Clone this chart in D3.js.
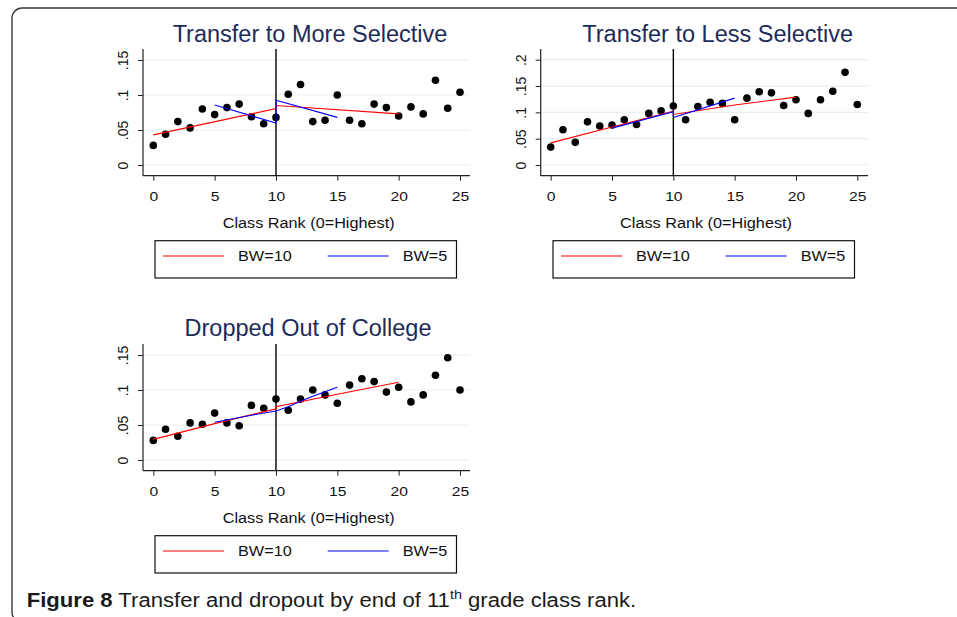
<!DOCTYPE html>
<html>
<head>
<meta charset="utf-8">
<script src="https://cdn.jsdelivr.net/npm/d3@7"></script>
<style>
  body { margin: 0; background: #fff; }
  svg { display: block; font-family: "Liberation Sans", Arial, sans-serif; }
</style>
</head>
<body>
<svg width="957" height="617"></svg>
<script>
// class rank categories (x)
const ranks = [0,1,2,3,4,5,6,7,8,9,10,11,12,13,14,15,16,17,18,19,20,21,22,23,24,25];

// binned means, one per rank
const moreSel = [0.028,0.044,0.062,0.053,0.080,0.072,0.082,0.087,0.069,0.059,0.068,0.101,0.115,
                 0.062,0.064,0.100,0.064,0.059,0.087,0.082,0.070,0.083,0.073,0.121,0.081,0.104];
const lessSel = [0.034,0.067,0.043,0.082,0.074,0.076,0.086,0.077,0.098,0.103,0.112,0.086,0.111,
                 0.119,0.117,0.086,0.127,0.139,0.137,0.113,0.124,0.098,0.124,0.140,0.176,0.115];
const dropped = [0.028,0.044,0.034,0.053,0.051,0.067,0.053,0.049,0.078,0.074,0.087,0.071,0.087,
                 0.100,0.093,0.081,0.107,0.116,0.112,0.097,0.104,0.083,0.093,0.121,0.146,0.100];

// local fits [rank, value]
const moreBw10 = [[0,0.043],[10,0.0805],[10,0.085],[20,0.073]];
const moreBw5  = [[5,0.0857],[10,0.060],[10,0.0924],[15,0.068]];
const lessBw10 = [[0,0.042],[5,0.072],[10,0.102],[10,0.096],[15,0.114],[20,0.129]];
const lessBw5  = [[5,0.070],[10,0.101],[10,0.090],[15,0.127]];
const dropBw10 = [[0,0.0295],[5,0.052],[10,0.073],[10,0.076],[15,0.094],[20,0.111]];
const dropBw5  = [[5,0.054],[8,0.064],[10,0.070],[11,0.076],[12,0.084],[13,0.091],[15,0.104]];

const xTicks = [0,5,10,15,20,25];
const yTicksA = [0,0.05,0.1,0.15];
const yTicksB = [0,0.05,0.1,0.15,0.2];
const yLabelsA = ['0','.05','.1','.15'];
const yLabelsB = ['0','.05','.1','.15','.2'];
const cutoff = 10;

const legendLabels = ['BW=10','BW=5'];
const fitColors = ['#ff0000','#0000ff'];
const gridColor = '#e7efef';
const titleColor = '#1d2b5a';
const stretch = 1.16;

var svg = d3.select('svg');

// outer frame, rounded at left, bottom edge just off the page
svg.append('rect')
    .attr('x', 12).attr('y', 8)
    .attr('width', 1000).attr('height', 614)
    .attr('rx', 10)
    .style('fill', 'none')
    .style('stroke', '#3a3a3a')
    .style('stroke-width', 1.4);

function drawPanel(p) {
    let g = svg.append('g').attr('transform', `translate(${p.left},${p.top})`);
    let w = p.w, h = 126.7;

    let x = d3.scaleLinear().domain([0, 25]).range([p.x0, p.x25]);
    let y = d3.scaleLinear().domain([0, p.yTop]).range([116, p.yTopPx]);

    // grid
    g.selectAll('line.grid')
        .data(p.yTicks)
        .enter()
        .append('line')
        .attr('x1', 0).attr('x2', w)
        .attr('y1', d => y(d)).attr('y2', d => y(d))
        .style('stroke', gridColor)
        .style('stroke-width', 1.2);

    // y axis
    let ya = g.append('g')
        .call(d3.axisLeft(y).tickValues(p.yTicks)
            .tickFormat((d, i) => p.yLabels[i]).tickSize(5).tickSizeOuter(0));
    ya.select('.domain').remove();
    ya.selectAll('line').style('stroke', '#222');
    ya.selectAll('text')
        .attr('x', 0).attr('dy', 0)
        .attr('text-anchor', 'middle')
        .attr('transform', 'translate(-15,0) rotate(-90)')
        .style('font-size', '14px')
        .style('fill', '#111')
        .style('font-family', '"Liberation Sans", Arial, sans-serif');

    // x axis
    let xa = g.append('g')
        .attr('transform', `translate(0,${h})`)
        .call(d3.axisBottom(x).tickValues(xTicks).tickSize(5).tickSizeOuter(0));
    xa.select('.domain').remove();
    xa.selectAll('line').style('stroke', '#222');
    xa.selectAll('text')
        .attr('y', 0).attr('dy', 0)
        .attr('transform', `translate(0,25) scale(${stretch},1)`)
        .style('font-size', '13.5px')
        .style('fill', '#111')
        .style('font-family', '"Liberation Sans", Arial, sans-serif');

    g.append('line')
        .attr('x1', 0).attr('x2', 0).attr('y1', 0).attr('y2', h)
        .style('stroke', '#222').style('stroke-width', 1.2);
    g.append('line')
        .attr('x1', 0).attr('x2', w).attr('y1', h).attr('y2', h)
        .style('stroke', '#222').style('stroke-width', 1.2);

    // cutoff
    g.append('line')
        .attr('x1', x(cutoff)).attr('x2', x(cutoff))
        .attr('y1', 0).attr('y2', h)
        .style('stroke', '#000').style('stroke-width', 1.4);

    // points
    g.selectAll('circle')
        .data(p.values)
        .enter()
        .append('circle')
        .attr('cx', (d, i) => x(ranks[i]))
        .attr('cy', d => y(d))
        .attr('r', 3.8)
        .style('fill', '#000');

    // fits
    let line = d3.line().x(d => x(d[0])).y(d => y(d[1]));
    [p.bw10, p.bw5].forEach((fit, i) => {
        g.append('path')
            .attr('d', line(fit))
            .style('fill', 'none')
            .style('stroke', fitColors[i])
            .style('stroke-width', 1.1);
    });

    // titles
    g.append('text')
        .attr('x', p.titleX).attr('y', p.titleY)
        .attr('text-anchor', 'middle')
        .style('font-size', '23.5px')
        .style('fill', titleColor)
        .text(p.title);

    g.append('text')
        .attr('text-anchor', 'middle')
        .attr('transform', `translate(${(p.x0 + p.x25) / 2 + 2},178.5) scale(${stretch},1)`)
        .style('font-size', '14px')
        .style('fill', '#111')
        .text('Class Rank (0=Highest)');

    // legend
    let lg = g.append('g').attr('transform', `translate(${p.legX},191.7)`);
    lg.append('rect')
        .attr('width', 301.5).attr('height', 37.3)
        .style('fill', '#fff')
        .style('stroke', '#111')
        .style('stroke-width', 1.2);
    legendLabels.forEach((lab, i) => {
        let ox = 8 + i * 164.7;
        lg.append('line')
            .attr('x1', ox).attr('x2', ox + 61)
            .attr('y1', 15.3).attr('y2', 15.3)
            .style('stroke', fitColors[i])
            .style('stroke-width', 1.1);
        lg.append('text')
            .attr('transform', `translate(${ox + 75},20.3) scale(${stretch},1)`)
            .style('font-size', '14px')
            .style('fill', '#111')
            .text(lab);
    });
}

drawPanel({title: 'Transfer to More Selective', left: 143, top: 49, w: 327,
    x0: 10.3, x25: 317, yTop: 0.15, yTopPx: 11, yTicks: yTicksA, yLabels: yLabelsA,
    values: moreSel, bw10: moreBw10, bw5: moreBw5, titleX: 167, titleY: -7.3, legX: 12});
drawPanel({title: 'Transfer to Less Selective', left: 540.7, top: 49, w: 327.3,
    x0: 10, x25: 316.6, yTop: 0.2, yTopPx: 10.7, yTicks: yTicksB, yLabels: yLabelsB,
    values: lessSel, bw10: lessBw10, bw5: lessBw5, titleX: 177, titleY: -7.3, legX: 12.3});
drawPanel({title: 'Dropped Out of College', left: 143, top: 344, w: 327,
    x0: 10.3, x25: 317, yTop: 0.15, yTopPx: 11, yTicks: yTicksA, yLabels: yLabelsA,
    values: dropped, bw10: dropBw10, bw5: dropBw5, titleX: 165, titleY: -8, legX: 12});

// caption, condensed to the printed width
let cap = svg.append('text')
    .attr('x', 0).attr('y', 0)
    .style('font-family', '"Liberation Sans Narrow", "Liberation Sans", Arial, sans-serif')
    .style('font-size', '20px')
    .style('fill', '#1a1a1a');
cap.append('tspan').style('font-weight', 'bold').text('Figure 8');
cap.append('tspan').text(' Transfer and dropout by end of 11');
cap.append('tspan').attr('dy', -8).style('font-size', '13px').text('th');
cap.append('tspan').attr('dy', 8).text(' grade class rank.');
let cw = cap.node().getBBox().width;
cap.attr('transform', `translate(26.7,606.5) scale(${610 / cw},1)`);
</script>
</body>
</html>
